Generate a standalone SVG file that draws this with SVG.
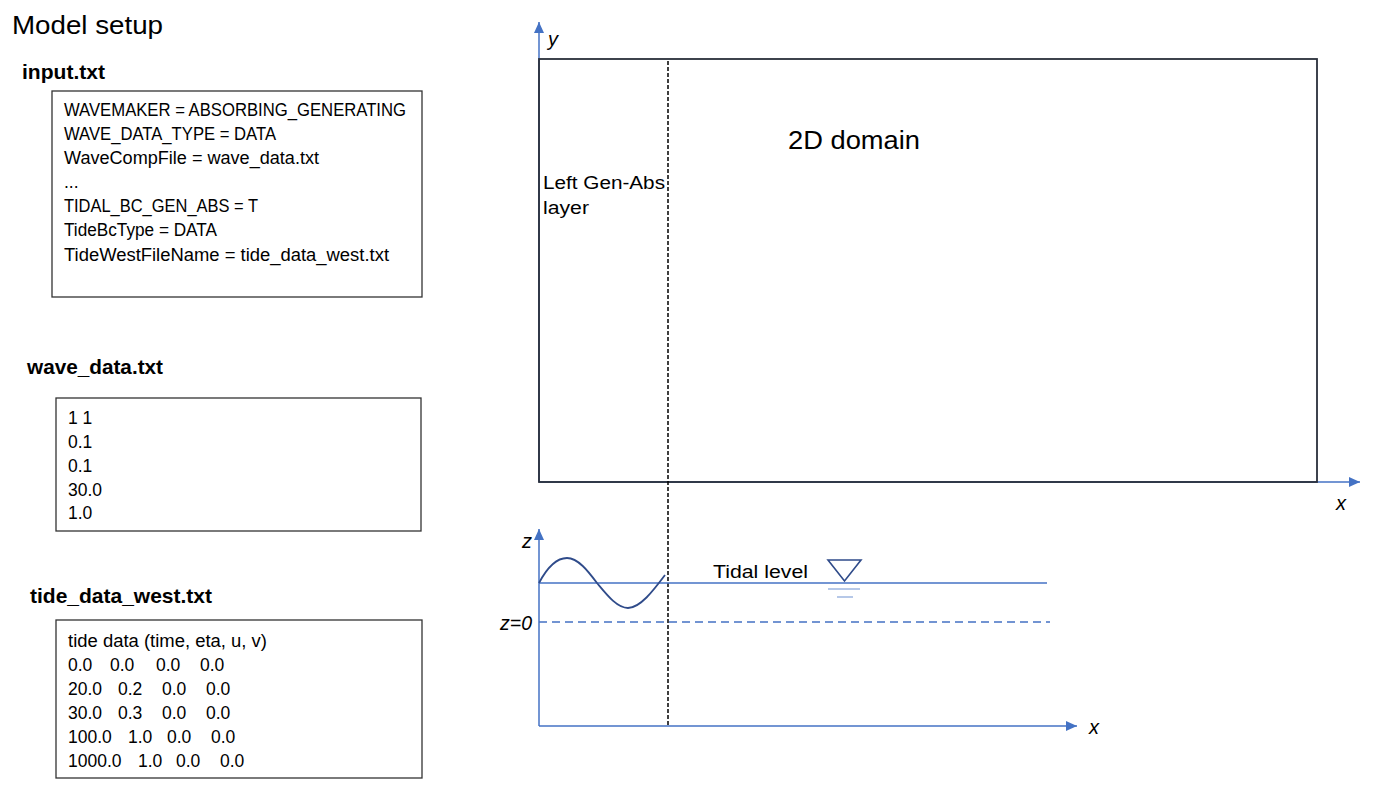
<svg xmlns="http://www.w3.org/2000/svg" width="1377" height="790" viewBox="0 0 1377 790">
<style>
  .title { font-family: "Liberation Sans", Arial, sans-serif; font-size: 26px; fill: #000; }
  .label { font-family: "Liberation Sans", Arial, sans-serif; font-size: 20.5px; font-weight: bold; fill: #000; }
  .txt { font-family: "Liberation Sans", Arial, sans-serif; font-size: 17.5px; fill: #000; }
  .big { font-family: "Liberation Sans", Arial, sans-serif; font-size: 26px; fill: #000; }
  .ax { font-family: "Liberation Sans", Arial, sans-serif; font-size: 20px; font-style: italic; fill: #000; }
  .box { fill: #fff; stroke: #333; stroke-width: 1.3; }
  .axis { stroke: #4472C4; stroke-width: 1.5; fill: none; }
  .layer { stroke: #000; stroke-width: 1.5; stroke-dasharray: 4 2; fill: none; }
</style>
<defs>
  <marker id="arr" markerUnits="userSpaceOnUse" markerWidth="11" markerHeight="10" refX="11" refY="5" orient="auto">
    <path d="M0,0 L11,5 L0,10 Z" fill="#4472C4"/>
  </marker>
</defs>
<rect width="1377" height="790" fill="#fff"/>

<g id="title">
  <text class="title" x="12" y="34" textLength="151" lengthAdjust="spacingAndGlyphs">Model setup</text>
</g>

<g id="input-file">
  <text class="label" x="22" y="79" textLength="83" lengthAdjust="spacingAndGlyphs">input.txt</text>
  <rect class="box" x="52" y="91" width="370" height="206"/>
  <text class="txt" x="64" y="116" textLength="342" lengthAdjust="spacingAndGlyphs">WAVEMAKER = ABSORBING_GENERATING</text>
  <text class="txt" x="64" y="140" textLength="212" lengthAdjust="spacingAndGlyphs">WAVE_DATA_TYPE = DATA</text>
  <text class="txt" x="64" y="164" textLength="255" lengthAdjust="spacingAndGlyphs">WaveCompFile = wave_data.txt</text>
  <text class="txt" x="64" y="188">...</text>
  <text class="txt" x="64" y="212" textLength="194" lengthAdjust="spacingAndGlyphs">TIDAL_BC_GEN_ABS = T</text>
  <text class="txt" x="64" y="236" textLength="153" lengthAdjust="spacingAndGlyphs">TideBcType = DATA</text>
  <text class="txt" x="64" y="261" textLength="325" lengthAdjust="spacingAndGlyphs">TideWestFileName = tide_data_west.txt</text>
</g>

<g id="wave-file">
  <text class="label" x="27" y="374" textLength="136" lengthAdjust="spacingAndGlyphs">wave_data.txt</text>
  <rect class="box" x="56" y="398" width="365" height="133"/>
  <text class="txt" x="68" y="424">1 1</text>
  <text class="txt" x="68" y="448">0.1</text>
  <text class="txt" x="68" y="472">0.1</text>
  <text class="txt" x="68" y="496">30.0</text>
  <text class="txt" x="68" y="519">1.0</text>
</g>

<g id="tide-file">
  <text class="label" x="30" y="603" textLength="182" lengthAdjust="spacingAndGlyphs">tide_data_west.txt</text>
  <rect class="box" x="56" y="620" width="366" height="158"/>
  <text class="txt" x="68" y="647" textLength="199" lengthAdjust="spacingAndGlyphs">tide data (time, eta, u, v)</text>
  <text class="txt" y="671"><tspan x="68">0.0</tspan> <tspan x="110">0.0</tspan> <tspan x="156">0.0</tspan> <tspan x="200">0.0</tspan></text>
  <text class="txt" y="695"><tspan x="68">20.0</tspan> <tspan x="118">0.2</tspan> <tspan x="162">0.0</tspan> <tspan x="206">0.0</tspan></text>
  <text class="txt" y="719"><tspan x="68">30.0</tspan> <tspan x="118">0.3</tspan> <tspan x="162">0.0</tspan> <tspan x="206">0.0</tspan></text>
  <text class="txt" y="743"><tspan x="68">100.0</tspan> <tspan x="128">1.0</tspan> <tspan x="167">0.0</tspan> <tspan x="211">0.0</tspan></text>
  <text class="txt" y="767"><tspan x="68">1000.0</tspan> <tspan x="138">1.0</tspan> <tspan x="176">0.0</tspan> <tspan x="220">0.0</tspan></text>
</g>

<g id="connectors">
  <line class="axis" x1="539" y1="482" x2="539" y2="22" marker-end="url(#arr)"/>
  <line class="axis" x1="539" y1="482" x2="1360" y2="482" marker-end="url(#arr)"/>
  <line class="axis" x1="539" y1="726" x2="539" y2="529" marker-end="url(#arr)"/>
  <line class="axis" x1="539" y1="726" x2="1077" y2="726" marker-end="url(#arr)"/>
</g>

<g id="domain">
  <rect x="539" y="59" width="778" height="423" fill="none" stroke="#2a2f3a" stroke-width="1.8"/>
  <text class="ax" x="548" y="46">y</text>
  <text class="ax" x="1336" y="510">x</text>
  <text class="big" x="788" y="149" textLength="132" lengthAdjust="spacingAndGlyphs">2D domain</text>
  <text class="txt" x="543" y="189" textLength="122" lengthAdjust="spacingAndGlyphs">Left Gen-Abs</text>
  <text class="txt" x="543" y="214" textLength="46" lengthAdjust="spacingAndGlyphs">layer</text>
</g>

<g id="gen-abs-layer">
  <line class="layer" x1="668" y1="61" x2="668" y2="726"/>
</g>

<g id="profile">
  <line x1="539" y1="583" x2="1047" y2="583" stroke="#4472C4" stroke-width="1.5"/>
  <line x1="539" y1="622" x2="1050" y2="622" stroke="#4472C4" stroke-width="1.5" stroke-dasharray="8 5"/>
  <path d="M539,583 C548,566 557,558 567,558 C578,558 588,571 597,583 C607,595 617,608 628,608 C640,608 653,591 665,575" fill="none" stroke="#2F4B8A" stroke-width="1.8"/>
  <path d="M828,560 L861,560 L844.5,581 Z" fill="none" stroke="#2F4B8A" stroke-width="1.6"/>
  <line x1="828" y1="589" x2="860" y2="589" stroke="#8FAADC" stroke-width="1.3"/>
  <line x1="837" y1="597" x2="853" y2="597" stroke="#8FAADC" stroke-width="1.3"/>
  <text class="txt" x="713" y="578" textLength="95" lengthAdjust="spacingAndGlyphs">Tidal level</text>
  <text class="ax" x="522" y="548">z</text>
  <text class="ax" x="500" y="630" textLength="32" lengthAdjust="spacingAndGlyphs">z=0</text>
  <text class="ax" x="1089" y="734">x</text>
</g>
</svg>
